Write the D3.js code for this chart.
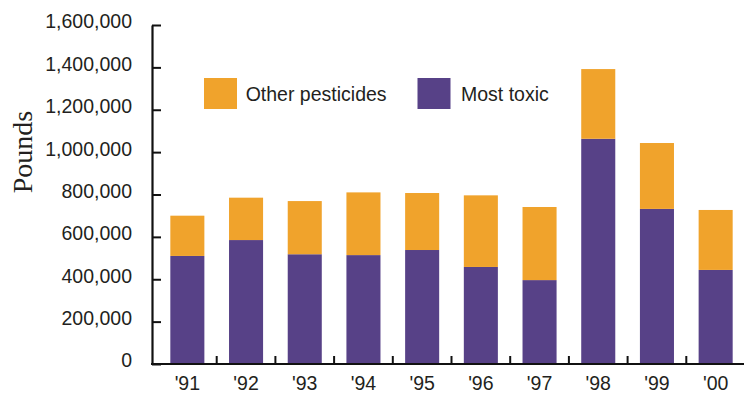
<!DOCTYPE html>
<html>
<head>
<meta charset="utf-8">
<script src="https://cdn.jsdelivr.net/npm/d3@7"></script>
<style>
  body { margin: 0; background: #fff; }
  svg { display: block; }
</style>
</head>
<body>
<div id="chart"></div>
<script>
// Data (pounds)
const years = ["'91", "'92", "'93", "'94", "'95", "'96", "'97", "'98", "'99", "'00"];
const mostToxic = [510000, 585000, 518000, 514000, 538000, 458000, 396000, 1063000, 732000, 444000];
const otherPesticides = [190000, 200000, 251000, 296000, 269000, 338000, 345000, 329000, 311000, 283000];
const yTicks = [0, 200000, 400000, 600000, 800000, 1000000, 1200000, 1400000, 1600000];
const seriesNames = ["Other pesticides", "Most toxic"];

const colors = { "Most toxic": "#574187", "Other pesticides": "#F0A32C" };

const dimensions = { width: 744, height: 396 };
const font = "'Liberation Sans', Arial, sans-serif";

const svg = d3.select('#chart')
    .append('svg')
    .attr('width', dimensions.width)
    .attr('height', dimensions.height);

const x = d3.scaleBand()
    .domain(years)
    .range([158, 745])
    .paddingInner(0.42)
    .paddingOuter(0.21);

const y = d3.scaleLinear()
    .domain([0, 1600000])
    .range([364, 25]);

// stack the two series: purple at the bottom, orange on top
const rows = years.map((yr, i) => ({ year: yr, "Most toxic": mostToxic[i], "Other pesticides": otherPesticides[i] }));
const stacked = d3.stack().keys(["Most toxic", "Other pesticides"])(rows);

svg.append('g')
    .selectAll('g')
    .data(stacked)
    .join('g')
    .attr('fill', d => colors[d.key])
    .selectAll('rect')
    .data(d => d)
    .join('rect')
    .attr('x', d => x(d.data.year))
    .attr('width', x.bandwidth())
    .attr('y', d => y(d[1]))
    .attr('height', d => y(d[0]) - y(d[1]));

// y axis
const yAxis = svg.append('g')
    .attr('transform', 'translate(152,0)')
    .call(d3.axisLeft(y)
        .tickValues(yTicks)
        .tickFormat(d3.format(','))
        .tickSizeInner(-9)
        .tickSizeOuter(0)
        .tickPadding(20));
yAxis.select('.domain').attr('stroke', '#111').attr('stroke-width', 2.2);
yAxis.selectAll('.tick line').attr('stroke', '#111').attr('stroke-width', 2);
yAxis.selectAll('.tick text')
    .attr('dy', '0.15em')
    .attr('fill', '#231f20')
    .style('font-family', font)
    .style('font-size', '19.5px');

// x axis line
svg.append('line')
    .attr('x1', 151).attr('x2', 744)
    .attr('y1', 364).attr('y2', 364)
    .attr('stroke', '#111').attr('stroke-width', 2.2);

// separators between the year bands
const step = x.step();
svg.append('g')
    .selectAll('line')
    .data(years.slice(1))
    .join('line')
    .attr('x1', d => x(d) - step * x.paddingInner() / 2)
    .attr('x2', d => x(d) - step * x.paddingInner() / 2)
    .attr('y1', 364).attr('y2', 356)
    .attr('stroke', '#111').attr('stroke-width', 2);

// year labels
svg.append('g')
    .selectAll('text')
    .data(years)
    .join('text')
    .attr('x', d => x(d) + x.bandwidth() / 2)
    .attr('y', 390)
    .attr('text-anchor', 'middle')
    .attr('fill', '#231f20')
    .style('font-family', font)
    .style('font-size', '19.5px')
    .text(d => d);

// y title
svg.append('text')
    .attr('transform', 'translate(32,152) rotate(-90)')
    .attr('text-anchor', 'middle')
    .attr('fill', '#231f20')
    .style('font-family', "'Liberation Serif', 'Times New Roman', serif")
    .style('font-size', '28px')
    .text('Pounds');

// legend
const legendX = [204, 417.5];
const legend = svg.append('g')
    .selectAll('g')
    .data(seriesNames)
    .join('g')
    .attr('transform', (d, i) => `translate(${legendX[i]},78)`);
legend.append('rect')
    .attr('width', 33).attr('height', 31)
    .attr('fill', d => colors[d]);
legend.append('text')
    .attr('x', (d, i) => i === 0 ? 41.7 : 43.5)
    .attr('y', 22.5)
    .attr('fill', '#231f20')
    .style('font-family', font)
    .style('font-size', '19.5px')
    .text(d => d);
</script>
</body>
</html>
